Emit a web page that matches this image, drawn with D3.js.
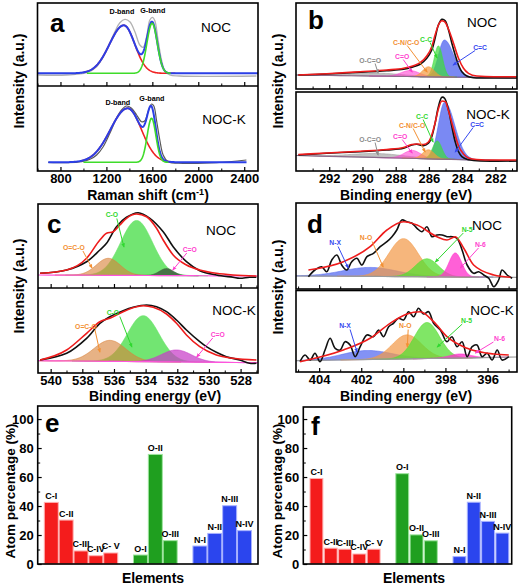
<!DOCTYPE html>
<html>
<head>
<meta charset="utf-8">
<script src="https://cdn.jsdelivr.net/npm/d3@7/dist/d3.min.js"></script>
<style>
html,body{margin:0;padding:0;background:#fff;}
svg{display:block;}
</style>
</head>
<body>
<svg id="chart" width="520" height="585"></svg>
<script>
// ================= DATA =================
// (a) Raman spectra — peak = [center, height, sigma(low side), sigma(high side)]
const ramanTicks = [800, 1200, 1600, 2000, 2400];
const ramanMinorTicks = [600, 1000, 1400, 1800, 2200];
const ramanBands = ["D-band", "G-band"];
const ramanNOC_D = [1352, 48, 125, 95];
const ramanNOC_G = [1598, 50, 45, 45];
const ramanNOC_baseline = 12.7;
const ramanNOC_windows = [[600, 2520], [1000, 1800], [1030, 1760]]; // total, D, G
const ramanNOC_raw = [[607,11],[854,11],[1028,13.3],[1115,19.3],[1202,36],[1274,54.3],[1317,63.3],[1361,66.7],[1404,64.3],[1448,54.3],[1491,41],[1520,38.7],[1550,49.3],[1578,66],[1602,68.7],[1622,65.3],[1650,46],[1680,26],[1709,15.3],[1752,11],[1839,10],[2506,10]];
const ramanNOCK_D = [1385, 54, 150, 120];
const ramanNOCK_G = [1593, 44, 38, 38];
const ramanNOCK_baseline = 8.7;
const ramanNOCK_windows = [[694, 2420], [980, 1780], [1000, 1740]];
const ramanNOCK_raw = [[694,8.7],[854,8.3],[984,9.3],[1057,11.7],[1115,16],[1172,24.3],[1230,37.7],[1288,52.7],[1332,61],[1375,65],[1419,62.7],[1463,56],[1506,49.3],[1535,50.3],[1563,59.3],[1593,67],[1613,65],[1636,51],[1665,31],[1694,16],[1737,9.3],[1868,7.7],[2158,8.3],[2419,11]];

// (b) C 1s XPS
const xpsC_ticks = [282, 284, 286, 288, 290, 292];
const xpsC_minor = [281, 283, 285, 287, 289, 291, 293];
const xpsC_components = ["O-C=O", "C=O", "C-N/C-O", "C-C", "C=C"];
const xpsC_NOC_peaks = [[289.14,3,1.5,1.5],[287.13,6,0.55,0.55],[286.03,10,0.35,0.35],[285.43,31,0.25,0.25],[285.07,37,0.55,0.35]];
const xpsC_NOCK_peaks = [[289.1,4,1.6,1.6],[287.0,8,0.5,0.5],[286.03,9,0.35,0.35],[285.5,18,0.28,0.28],[285.05,57,0.6,0.38]];
const xpsC_NOC_base = [14, 11];
const xpsC_NOCK_base = [15.5, 10];
const xpsC_NOC_raw = [[293.86,14],[292.15,15],[290.14,16.7],[288.54,18.3],[287.53,19.7],[286.93,22.3],[286.53,24.7],[286.13,30.7],[285.83,39],[285.63,50.7],[285.43,64],[285.22,69.7],[285.02,68.3],[284.82,59],[284.62,45.7],[284.42,34],[284.22,24],[284.02,17.3],[283.72,13],[283.32,11.3],[282.51,11],[280.71,11]];
const xpsC_NOC_fit = [[293.86,14],[292.15,15.3],[290.14,17.3],[288.54,19],[287.53,20.7],[286.93,23.3],[286.53,26.3],[286.13,33],[285.83,42.3],[285.63,54],[285.43,64],[285.22,68.3],[285.06,67.3],[284.82,59.7],[284.52,45.7],[284.22,30.7],[283.92,20.7],[283.62,15.7],[283.12,13],[282.11,12.3],[280.71,12.3]];
const xpsC_NOCK_raw = [[293.86,16],[292.15,17.7],[290.14,19.3],[288.54,21],[287.53,22.7],[287.03,26],[286.73,26.7],[286.33,25.3],[286.03,27.7],[285.83,34.3],[285.63,47.7],[285.43,64.3],[285.22,73.7],[285.06,72.7],[284.82,61],[284.62,44.3],[284.42,29.3],[284.22,19.3],[284.02,14.3],[283.72,11.7],[283.12,10.3],[280.71,10]];
const xpsC_NOCK_fit = [[293.86,16.5],[292.15,18],[290.14,19.8],[288.54,21.5],[287.53,23.5],[287.03,26.5],[286.73,27],[286.33,26.5],[286.03,29],[285.83,36],[285.63,48],[285.43,62],[285.22,70],[285.02,69.5],[284.82,60],[284.52,42],[284.22,25],[283.92,17],[283.62,13],[283.12,11.5],[282.11,11],[280.71,11]];

// (c) O 1s XPS
const xpsO_ticks = [528, 530, 532, 534, 536, 538, 540];
const xpsO_minor = [527, 529, 531, 533, 535, 537, 539];
const xpsO_components = ["O=C-O", "C-O", "C=O"];
const xpsO_NOC_peaks = [[536.36,17,0.75,0.75],[534.57,55,1.0,1.0],[532.68,7,0.45,0.45]];
const xpsO_NOCK_peaks = [[536.26,21,1.0,1.0],[534.15,46,1.0,1.0],[532.05,12,0.95,0.95]];
const xpsO_NOC_base = [13, 12];
const xpsO_NOCK_base = [12.3, 10.3];
const xpsO_NOC_raw = [[540.67,14.7],[538.99,18],[537.73,26.3],[536.89,38],[536.47,44.7],[535.84,61.3],[535.21,70.7],[534.47,75.3],[533.73,69.7],[532.89,56.3],[532.26,41.3],[531.42,26.3],[530.58,17.3],[529.53,13],[528.48,10.7],[528.06,9.7],[527.43,10.7],[527.0,10.7]];
const xpsO_NOC_fit = [[540.67,14.7],[538.99,18],[537.73,29.7],[536.89,48],[536.47,54.7],[536.05,56.3],[535.63,63],[535.21,69.7],[534.57,74],[533.94,71.3],[533.31,59.7],[532.89,48],[532.26,33],[531.42,23],[530.58,18],[529.53,14.7],[528.48,13],[527.0,12]];
const xpsO_NOCK_raw = [[540.67,13],[538.99,19.7],[537.73,34.7],[536.89,49.7],[536.26,56.3],[535.42,62.3],[534.79,65.7],[533.94,68],[533.31,66.3],[532.68,61.3],[532.05,53],[531.42,43],[530.58,31.3],[530.16,26.3],[529.53,20.7],[528.9,16.3],[528.06,13],[527.43,9.7],[527.0,9.7]];
const xpsO_NOCK_fit = [[540.67,13],[538.99,23],[537.73,39.7],[536.89,51.3],[536.26,54.7],[535.42,61.3],[534.57,66.3],[534.15,67.3],[533.52,65.7],[532.68,59],[532.05,49.7],[531.42,38],[530.58,26.3],[529.53,18],[528.48,14.7],[527.0,13]];

// (d) N 1s XPS
const xpsN_ticks = [396, 398, 400, 402, 404];
const xpsN_minor = [395, 397, 399, 401, 403, 405];
const xpsN_components = ["N-X", "N-O", "N-5", "N-6"];
const xpsN_NOC_peaks = [[401.58,9,1.3,1.3],[399.99,38,0.7,0.7],[398.88,18,0.55,0.55],[397.53,24,0.3,0.3]];
const xpsN_NOCK_peaks = [[401.73,9,1.2,1.2],[399.83,24,0.7,0.7],[398.88,36,0.6,0.6],[397.3,4,0.5,0.5]];
const xpsN_NOC_base = [13, 11.7];
const xpsN_NOCK_base = [11.3, 15];
const xpsN_NOC_raw = [[404.51,12.3],[404.2,19],[403.88,22.3],[403.64,17.3],[403.4,29],[403.16,34],[402.93,24],[402.69,19],[402.45,27.3],[402.21,30.7],[401.97,24],[401.73,32.3],[401.42,35.7],[401.1,42.3],[400.78,47.3],[400.54,52.3],[400.31,59],[400.07,69],[399.83,67.3],[399.59,65.7],[399.35,60.7],[399.12,57.3],[398.88,62.3],[398.64,52.3],[398.4,54],[398.16,54],[397.93,52.3],[397.69,52.3],[397.45,50.7],[397.21,39],[396.97,24],[396.66,15.7],[396.42,17.3],[396.18,14],[395.94,10.7],[395.7,2.3],[395.47,9],[395.31,19],[395.07,14],[394.83,10.7]];
const xpsN_NOC_fit = [[404.51,19],[402.85,27.3],[401.58,42.3],[400.78,59],[399.99,67.3],[399.35,64],[398.4,52.3],[397.93,49],[397.53,52.3],[397.13,40.7],[396.66,24],[395.7,14],[394.91,11.7]];
const xpsN_NOCK_raw = [[404.91,10.3],[404.67,17],[404.43,12],[404.2,18.7],[403.96,10.3],[403.72,22],[403.48,33.7],[403.24,23.7],[403.0,22],[402.77,30.3],[402.53,27],[402.29,15.3],[402.05,25.3],[401.73,37],[401.42,35.3],[401.18,42],[400.94,35.3],[400.7,45.3],[400.47,48.7],[400.23,53.7],[399.99,52],[399.75,60.3],[399.51,55.3],[399.28,63.7],[399.04,58],[398.8,60.3],[398.56,48.7],[398.24,42],[397.93,30.3],[397.69,35.3],[397.45,25.3],[397.21,30.3],[396.97,15.3],[396.73,25.3],[396.5,27],[396.26,15.3],[396.02,18.7],[395.78,12],[395.54,22],[395.31,12],[394.99,15.3]];
const xpsN_NOCK_fit = [[404.91,10.3],[402.85,22],[401.58,33.7],[400.63,48.7],[399.83,58],[399.2,60.3],[398.56,50.3],[397.93,35.3],[396.97,23.7],[395.7,18],[394.99,17]];

// (e), (f) atom percentages
const barLabels = ["C-I", "C-II", "C-III", "C-IV", "C- V", "O-I", "O-II", "O-III", "N-I", "N-II", "N-III", "N-IV"];
const barElements = ["C", "C", "C", "C", "C", "O", "O", "O", "N", "N", "N", "N"];
const atomNOC = [42.5, 30.3, 9, 5.7, 7.6, 6.2, 75.6, 16.1, 12.4, 21.1, 40.2, 23];
const atomNOCK = [59, 10.9, 10.2, 6.9, 10.2, 62.3, 20.1, 16, 5.1, 42.6, 29.4, 21.3];
const atomTicks = [0, 20, 40, 60, 80, 100];
const atomMinor = [10, 30, 50, 70, 90];

// ================= DRAWING =================
const FONT = "'Liberation Sans', Arial, Helvetica, sans-serif";
const svg = d3.select("#chart");
const defs = svg.append("defs");
const root = svg.append("g").attr("font-family", FONT);

function clip(id, x0, y0, x1, y1) {
  defs.append("clipPath").attr("id", id).append("rect")
    .attr("x", x0).attr("y", y0).attr("width", x1 - x0).attr("height", y1 - y0);
  return `url(#${id})`;
}
function peakFn(p) {
  return v => { const s = v < p[0] ? p[2] : p[3]; const d = (v - p[0]) / s; return p[1] * Math.exp(-0.5 * d * d); };
}
function grid(lo, hi, n) { return d3.range(n + 1).map(i => lo + (hi - lo) * i / n); }
const markers = {};
function arrowHead(color) {
  if (!markers[color]) {
    const id = "ah" + Object.keys(markers).length;
    defs.append("marker").attr("id", id).attr("viewBox", "0 0 10 10").attr("refX", 8).attr("refY", 5)
      .attr("markerWidth", 4.5).attr("markerHeight", 4.5).attr("orient", "auto")
      .append("path").attr("d", "M0,1L10,5L0,9z").attr("fill", color);
    markers[color] = `url(#${id})`;
  }
  return markers[color];
}
function label(g, x, y, s, o = {}) {
  return g.append("text").attr("x", x).attr("y", y)
    .attr("text-anchor", o.anchor || "middle")
    .attr("font-size", o.size || 13)
    .attr("font-weight", o.weight || "normal")
    .attr("fill", o.fill || "#000")
    .attr("dy", o.dy || null)
    .text(s);
}
function frame(g, x0, y0, x1, y1) {
  g.append("rect").attr("x", x0).attr("y", y0).attr("width", x1 - x0).attr("height", y1 - y0)
    .attr("fill", "none").attr("stroke", "#000").attr("stroke-width", 1.6);
}
function bottomTicks(g, x, yPos, major, minor, withLabels) {
  const a = g.append("g").attr("transform", `translate(0,${yPos})`)
    .call(d3.axisBottom(x).tickValues(major).tickSizeInner(-4).tickSizeOuter(0).tickPadding(3)
      .tickFormat(withLabels ? d3.format("d") : () => ""));
  a.select(".domain").remove();
  a.selectAll("line").attr("stroke", "#000").attr("stroke-width", 1.2);
  a.selectAll("text").attr("font-size", 13).attr("font-weight", "bold").attr("fill", "#000").attr("font-family", FONT);
  const m = g.append("g").attr("transform", `translate(0,${yPos})`)
    .call(d3.axisBottom(x).tickValues(minor).tickSizeInner(-2.5).tickSizeOuter(0).tickFormat(() => ""));
  m.select(".domain").remove();
  m.selectAll("line").attr("stroke", "#000").attr("stroke-width", 1);
}
function yTitle(g, x, y, s, size) {
  g.append("text").attr("transform", `translate(${x},${y}) rotate(-90)`)
    .attr("text-anchor", "middle").attr("font-size", size).attr("font-weight", "bold").text(s);
}
function annotate(g, x, y, list, size) {
  list.forEach(a => {
    g.append("line")
      .attr("x1", x(a.from[0])).attr("y1", y(a.from[1]))
      .attr("x2", x(a.to[0])).attr("y2", y(a.to[1]))
      .attr("stroke", a.color).attr("stroke-width", 1)
      .attr("marker-end", arrowHead(a.color));
    label(g, x(a.at[0]), y(a.at[1]), a.text, { size: size, weight: "bold", fill: a.color, dy: "0.35em" });
  });
}

// ---------- (a) Raman ----------
(function () {
  const g = root.append("g");
  const x = d3.scaleLinear().domain([600, 2520]).range([37.5, 258]);
  const subs = [
    { y: d3.scaleLinear().domain([0, 83]).range([86, 3]), D: ramanNOC_D, G: ramanNOC_G, base: ramanNOC_baseline,
      win: ramanNOC_windows, raw: ramanNOC_raw, rawColor: "#b2b2b2", rawW: 1.3, top: 3, bot: 86, id: "caT",
      name: "NOC", nameX: 216, nameY: 31.5, bandPos: [[1335, 75], [1604, 75.5]] },
    { y: d3.scaleLinear().domain([0, 85]).range([171, 86]), D: ramanNOCK_D, G: ramanNOCK_G, base: ramanNOCK_baseline,
      win: ramanNOCK_windows, raw: ramanNOCK_raw, rawColor: "#5a5a5a", rawW: 1.2, top: 86, bot: 171, id: "caB",
      name: "NOC-K", nameX: 224, nameY: 124, bandPos: [[1300, 69], [1596, 73]] }
  ];
  subs.forEach(s => {
    const cg = g.append("g").attr("clip-path", clip(s.id, 37.5, s.top, 258, s.bot));
    const fD = peakFn(s.D), fG = peakFn(s.G);
    cg.append("path").datum(s.raw)
      .attr("d", d3.line().x(d => x(d[0])).y(d => s.y(d[1])).curve(d3.curveCatmullRom.alpha(0.5)))
      .attr("fill", "none").attr("stroke", s.rawColor).attr("stroke-width", s.rawW);
    const ln = f => d3.line().x(v => x(v)).y(v => s.y(f(v)));
    cg.append("path").attr("d", ln(v => s.base + fD(v))(grid(s.win[1][0], s.win[1][1], 200)))
      .attr("fill", "none").attr("stroke", "#f02222").attr("stroke-width", 1.6);
    cg.append("path").attr("d", ln(v => s.base + fD(v) + fG(v))(grid(s.win[0][0], s.win[0][1], 400)))
      .attr("fill", "none").attr("stroke", "#2b3fe6").attr("stroke-width", 2);
    cg.append("path").attr("d", ln(v => s.base + fG(v))(grid(s.win[2][0], s.win[2][1], 200)))
      .attr("fill", "none").attr("stroke", "#3fdc2a").attr("stroke-width", 1.6);
    ramanBands.forEach((b, i) => label(g, x(s.bandPos[i][0]), s.y(s.bandPos[i][1]), b, { size: 7.2, weight: "bold", dy: "0.35em" }));
    label(g, s.nameX, s.nameY, s.name, { size: 13.5 });
  });
  bottomTicks(g, x, 171, ramanTicks, ramanMinorTicks, true);
  bottomTicks(g, x, 86, ramanTicks, ramanMinorTicks, false);
  frame(g, 37.5, 3, 258, 171);
  g.append("line").attr("x1", 37.5).attr("x2", 258).attr("y1", 86).attr("y2", 86).attr("stroke", "#000").attr("stroke-width", 1.6);
  label(g, 50, 32, "a", { size: 26, weight: "bold", anchor: "start" });
  const t = g.append("text").attr("x", 148).attr("y", 200).attr("text-anchor", "middle").attr("font-size", 14).attr("font-weight", "bold");
  t.append("tspan").text("Raman shift (cm");
  t.append("tspan").attr("font-size", 9).attr("dy", -5).text("-1");
  t.append("tspan").attr("dy", 5).text(")");
  yTitle(g, 24, 81, "Intensity (a.u.)", 14);
})();

// generic XPS subplot
function xpsSub(g, x, y, id, box, base, peaks, colors, opac, order, raw, fit, baseColor) {
  const [d0, d1] = x.domain();
  const bf = v => base[0] + (base[1] - base[0]) * (v - d0) / (d1 - d0);
  const cg = g.append("g").attr("clip-path", clip(id, box[0], box[1], box[2], box[3]));
  const lo = Math.min(d0, d1), hi = Math.max(d0, d1);
  order.forEach(i => {
    const p = peaks[i], f = peakFn(p);
    const a = Math.max(lo, p[0] - 4.5 * p[2]), b = Math.min(hi, p[0] + 4.5 * p[3]);
    cg.append("path")
      .attr("d", d3.area().x(v => x(v)).y0(v => y(bf(v))).y1(v => y(bf(v) + f(v)))(grid(a, b, 160)))
      .attr("fill", colors[i]).attr("fill-opacity", opac[i])
      .attr("stroke", colors[i]).attr("stroke-width", 0.6);
  });
  cg.append("path").attr("d", d3.line().x(v => x(v)).y(v => y(bf(v)))(grid(lo, hi, 20)))
    .attr("fill", "none").attr("stroke", baseColor).attr("stroke-width", 1.2);
  cg.append("path").datum(raw)
    .attr("d", d3.line().x(d => x(d[0])).y(d => y(d[1])).curve(d3.curveCatmullRom.alpha(0.5)))
    .attr("fill", "none").attr("stroke", "#111").attr("stroke-width", 1.6);
  cg.append("path").datum(fit)
    .attr("d", d3.line().x(d => x(d[0])).y(d => y(d[1])).curve(d3.curveMonotoneX))
    .attr("fill", "none").attr("stroke", "#ee1c1c").attr("stroke-width", 1.6);
}

// ---------- (b) C 1s ----------
(function () {
  const g = root.append("g");
  const x = d3.scaleLinear().domain([294, 280.7]).range([296, 517]);
  const colors = ["#9a9a9a", "#ff45d2", "#f39a3c", "#3ddc3d", "#5468f0"];
  const labCol = ["#8c8c8c", "#ff3fcf", "#f39033", "#2fd82f", "#3548f0"];
  const opac = [0.6, 0.6, 0.7, 0.72, 0.78];
  const order = [0, 1, 4, 3, 2];
  const yT = d3.scaleLinear().domain([0, 86]).range([89, 3]);
  const yB = d3.scaleLinear().domain([0, 79]).range([171, 92]);
  xpsSub(g, x, yT, "cbT", [296, 3, 517, 89], xpsC_NOC_base, xpsC_NOC_peaks, colors, opac, order, xpsC_NOC_raw, xpsC_NOC_fit, "#8a6a8a");
  xpsSub(g, x, yB, "cbB", [296, 92, 517, 171], xpsC_NOCK_base, xpsC_NOCK_peaks, colors, opac, order, xpsC_NOCK_raw, xpsC_NOCK_fit, "#8a6a8a");
  const annT = [
    { at: [289.54, 28], from: [289.24, 25.5], to: [289.06, 16] },
    { at: [287.61, 32], from: [287.55, 29.5], to: [287.01, 17] },
    { at: [287.37, 46], from: [287.31, 43.5], to: [286.11, 17] },
    { at: [286.17, 49], from: [285.93, 46.5], to: [285.51, 31] },
    { at: [282.92, 41], from: [283.22, 38.5], to: [284.54, 24] }
  ].map((a, i) => Object.assign(a, { text: xpsC_components[i], color: labCol[i] }));
  const annB = [
    { at: [289.54, 31], from: [289.24, 28.5], to: [289.06, 16] },
    { at: [287.73, 34], from: [287.61, 31.5], to: [287.01, 18] },
    { at: [287.01, 45], from: [286.95, 42.5], to: [286.23, 19] },
    { at: [286.41, 54], from: [286.35, 51.5], to: [285.75, 29] },
    { at: [283.1, 46], from: [283.34, 43.5], to: [284.42, 19] }
  ].map((a, i) => Object.assign(a, { text: xpsC_components[i], color: labCol[i] }));
  annotate(g, x, yT, annT, 6.8);
  annotate(g, x, yB, annB, 6.8);
  bottomTicks(g, x, 171, xpsC_ticks, xpsC_minor, true);
  bottomTicks(g, x, 89, xpsC_ticks, xpsC_minor, false);
  frame(g, 296, 3, 517, 89);
  frame(g, 296, 92, 517, 171);
  label(g, 482, 26.7, "NOC", { size: 13.5 });
  label(g, 488, 119, "NOC-K", { size: 13.5 });
  label(g, 308, 28.5, "b", { size: 26, weight: "bold", anchor: "start" });
  label(g, 406, 200, "Binding energy (eV)", { size: 14, weight: "bold" });
  yTitle(g, 283, 81, "Intensity (a.u.)", 14);
})();

// ---------- (c) O 1s ----------
(function () {
  const g = root.append("g");
  const x = d3.scaleLinear().domain([540.8, 526.9]).range([38, 258]);
  const labCol = ["#f39033", "#2fd82f", "#ff3fcf"];
  const yT = d3.scaleLinear().domain([0, 84]).range([288, 204]);
  const yB = d3.scaleLinear().domain([0, 85]).range([373, 288]);
  xpsSub(g, x, yT, "ccT", [38, 204, 258, 288], xpsO_NOC_base, xpsO_NOC_peaks,
    ["#d8823a", "#6ae46a", "#3f5f3f"], [0.62, 0.95, 0.85], [1, 0, 2], xpsO_NOC_raw, xpsO_NOC_fit, "#ff55dd");
  xpsSub(g, x, yB, "ccB", [38, 288, 258, 373], xpsO_NOCK_base, xpsO_NOCK_peaks,
    ["#d8823a", "#6ae46a", "#c73cc7"], [0.62, 0.95, 0.72], [1, 0, 2], xpsO_NOCK_raw, xpsO_NOCK_fit, "#ff55dd");
  const annT = [
    { at: [538.53, 40], from: [537.96, 37], to: [537.39, 20] },
    { at: [536.13, 73], from: [535.82, 69.5], to: [535.37, 41] },
    { at: [531.21, 38], from: [531.4, 35], to: [532.28, 18] }
  ].map((a, i) => Object.assign(a, { text: xpsO_components[i], color: labCol[i] }));
  const annB = [
    { at: [537.77, 46], from: [537.2, 43], to: [536.89, 21] },
    { at: [536.07, 60], from: [535.63, 56.5], to: [534.87, 26] },
    { at: [529.44, 38], from: [529.76, 35], to: [530.77, 16] }
  ].map((a, i) => Object.assign(a, { text: xpsO_components[i], color: labCol[i] }));
  annotate(g, x, yT, annT, 6.8);
  annotate(g, x, yB, annB, 6.8);
  bottomTicks(g, x, 373, xpsO_ticks, xpsO_minor, true);
  bottomTicks(g, x, 288, xpsO_ticks, xpsO_minor, false);
  frame(g, 38, 204, 258, 373);
  g.append("line").attr("x1", 38).attr("x2", 258).attr("y1", 288).attr("y2", 288).attr("stroke", "#000").attr("stroke-width", 1.6);
  label(g, 221, 235, "NOC", { size: 13.5 });
  label(g, 234, 315, "NOC-K", { size: 13.5 });
  label(g, 47, 233, "c", { size: 26, weight: "bold", anchor: "start" });
  label(g, 155, 401, "Binding energy (eV)", { size: 14, weight: "bold" });
  yTitle(g, 24, 286, "Intensity (a.u.)", 14);
})();

// ---------- (d) N 1s ----------
(function () {
  const g = root.append("g");
  const x = d3.scaleLinear().domain([405.1, 394.6]).range([296, 517]);
  const colors = ["#5a6ef0", "#f39a4a", "#55dd33", "#ff33cc"];
  const labCol = ["#3548f0", "#f39033", "#2fd82f", "#ff3fcf"];
  const yT = d3.scaleLinear().domain([0, 86]).range([289, 203]);
  const yB = d3.scaleLinear().domain([0, 81.5]).range([372, 290.5]);
  xpsSub(g, x, yT, "cdT", [296, 203, 517, 289], xpsN_NOC_base, xpsN_NOC_peaks, colors, [0.75, 0.72, 0.75, 0.78], [0, 1, 2, 3], xpsN_NOC_raw, xpsN_NOC_fit, "#9a9a9a");
  xpsSub(g, x, yB, "cdB", [296, 290.5, 517, 372], xpsN_NOCK_base, xpsN_NOCK_peaks, colors, [0.75, 0.72, 0.75, 0.78], [0, 1, 2, 3], xpsN_NOCK_raw, xpsN_NOCK_fit, "#9a9a9a");
  const annT = [
    { at: [403.24, 46], from: [403.1, 42.5], to: [402.62, 21] },
    { at: [401.77, 51], from: [401.48, 47.5], to: [400.96, 22] },
    { at: [396.97, 59], from: [397.15, 56], to: [398.48, 27] },
    { at: [396.34, 44], from: [396.43, 41], to: [397.29, 21] }
  ].map((a, i) => Object.assign(a, { text: xpsN_components[i], color: labCol[i] }));
  const annB = [
    { at: [402.77, 46], from: [402.53, 42.5], to: [402.2, 20] },
    { at: [399.91, 46], from: [399.77, 42.5], to: [399.81, 25] },
    { at: [397.0, 51], from: [397.2, 48], to: [398.39, 25] },
    { at: [395.43, 33], from: [395.72, 30], to: [396.58, 19] }
  ].map((a, i) => Object.assign(a, { text: xpsN_components[i], color: labCol[i] }));
  annotate(g, x, yT, annT, 6.8);
  annotate(g, x, yB, annB, 6.8);
  bottomTicks(g, x, 372, xpsN_ticks, xpsN_minor, true);
  bottomTicks(g, x, 289, xpsN_ticks, xpsN_minor, false);
  frame(g, 296, 203, 517, 289);
  frame(g, 296, 290.5, 517, 372);
  label(g, 487, 230, "NOC", { size: 13.5 });
  label(g, 492, 315, "NOC-K", { size: 13.5 });
  label(g, 307, 233, "d", { size: 26, weight: "bold", anchor: "start" });
  label(g, 406, 401, "Binding energy (eV)", { size: 14, weight: "bold" });
  yTitle(g, 283, 287, "Intensity (a.u.)", 14);
})();

// ---------- (e), (f) bars ----------
function barPanel(cfg) {
  const g = root.append("g");
  const domain = [];
  barLabels.forEach((l, i) => {
    if (i > 0 && barElements[i] !== barElements[i - 1]) domain.push("gap" + i);
    domain.push(l);
  });
  const x = d3.scaleBand().domain(domain).range(cfg.band).paddingInner(cfg.pad);
  const y = d3.scaleLinear().domain([0, cfg.yMax]).range([564, cfg.top]);
  const fill = { C: "#f41c1c", O: "#1f9f1f", N: "#2b45ee" };
  const edge = { C: "#ffb0b0", O: "#9ee49e", N: "#a8b2ff" };
  g.selectAll("rect.bar").data(barLabels).join("rect").attr("class", "bar")
    .attr("x", d => x(d)).attr("width", x.bandwidth())
    .attr("y", (d, i) => y(cfg.values[i])).attr("height", (d, i) => y(0) - y(cfg.values[i]))
    .attr("fill", (d, i) => fill[barElements[i]])
    .attr("stroke", (d, i) => edge[barElements[i]]).attr("stroke-width", 1);
  g.selectAll("text.bl").data(barLabels).join("text").attr("class", "bl")
    .attr("x", d => x(d) + x.bandwidth() / 2).attr("y", (d, i) => y(cfg.values[i]) - 3.5)
    .attr("text-anchor", "middle").attr("font-size", 9).attr("font-weight", "bold").text(d => d);
  const a = g.append("g").attr("transform", `translate(${cfg.frame[0]},0)`)
    .call(d3.axisLeft(y).tickValues(atomTicks).tickSizeInner(-4).tickSizeOuter(0).tickPadding(4).tickFormat(d3.format("d")));
  a.select(".domain").remove();
  a.selectAll("line").attr("stroke", "#000").attr("stroke-width", 1.2);
  a.selectAll("text").attr("font-size", 13).attr("font-weight", "bold").attr("fill", "#000").attr("font-family", FONT);
  const m = g.append("g").attr("transform", `translate(${cfg.frame[0]},0)`)
    .call(d3.axisLeft(y).tickValues(atomMinor).tickSizeInner(-2.5).tickSizeOuter(0).tickFormat(() => ""));
  m.select(".domain").remove();
  m.selectAll("line").attr("stroke", "#000").attr("stroke-width", 1);
  frame(g, cfg.frame[0], cfg.top, cfg.frame[1], 564);
  label(g, cfg.letter[0], cfg.letter[1], cfg.letterText, { size: 26, weight: "bold", anchor: "start" });
  label(g, cfg.xTitle, 583, "Elements", { size: 14, weight: "bold" });
  yTitle(g, cfg.yTitleX, 491, "Atom percentage (%)", 13.5);
}
barPanel({ values: atomNOC, band: [44.3, 251.5], pad: 0.06, yMax: 109, top: 406, frame: [37.7, 258],
  letter: [45, 432], letterText: "e", xTitle: 153, yTitleX: 15 });
barPanel({ values: atomNOCK, band: [310, 508.8], pad: 0.1, yMax: 108.3, top: 407, frame: [303.3, 511.7],
  letter: [311, 435], letterText: "f", xTitle: 414, yTitleX: 282 });
</script>
</body>
</html>
